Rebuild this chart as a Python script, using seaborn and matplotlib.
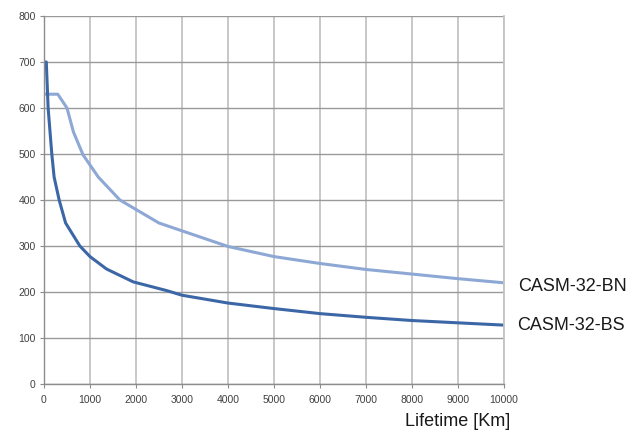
import numpy as np
import pandas as pd
import matplotlib
matplotlib.use("Agg")
import matplotlib.pyplot as plt
import seaborn as sns
from matplotlib.ticker import MultipleLocator

# -------------------------------------------------
# data
# -------------------------------------------------
bn_km = [0, 300, 500, 640, 850, 1180, 1650, 2500, 3000, 4000, 5000, 6000, 7000, 8000, 9000, 10000]
bn_val = [630, 630, 600, 548, 498, 450, 400, 350, 333, 299, 277, 262, 249, 239, 229, 220]

bs_km = [0, 50, 90, 130, 170, 220, 330, 470, 780, 1000, 1360, 1940, 2670, 3000, 4000, 5000, 6000, 7000, 8000, 9000, 10000]
bs_val = [700, 700, 600, 550, 500, 450, 400, 350, 300, 277, 250, 222, 203, 193, 176, 164, 153, 145, 138, 133, 128]

series_names = ["CASM-32-BN", "CASM-32-BS"]
series_colors = ["#8da8d4", "#3c67a7"]

df = pd.concat([
    pd.DataFrame({"km": bn_km, "val": bn_val, "series": series_names[0]}),
    pd.DataFrame({"km": bs_km, "val": bs_val, "series": series_names[1]}),
])

# -------------------------------------------------
# plot
# -------------------------------------------------
sns.set_style("white")
plt.rcParams["font.family"] = ["Liberation Sans", "DejaVu Sans"]

fig = plt.figure(figsize=(6.44, 4.34), dpi=100)
ax = fig.add_axes([0.0683, 0.1152, 0.7143, 0.8479])

sns.lineplot(data=df, x="km", y="val", hue="series", palette=dict(zip(series_names, series_colors)),
             linewidth=2.2, legend=False, ax=ax, sort=False)

ax.set_xlim(0, 10000)
ax.set_ylim(0, 800)
ax.xaxis.set_major_locator(MultipleLocator(1000))
ax.xaxis.set_minor_locator(MultipleLocator(500))
ax.yaxis.set_major_locator(MultipleLocator(100))

ax.grid(axis="x", which="major", color="#c4c4c4", linewidth=1.3)
ax.grid(axis="y", which="major", color="#9a9a9a", linewidth=1.0)
ax.set_axisbelow(True)

for s in ["left", "bottom"]:
    ax.spines[s].set_color("#8c8c8c")
    ax.spines[s].set_linewidth(1.0)
ax.spines["top"].set_visible(False)
ax.spines["right"].set_color("#c4c4c4")
ax.spines["right"].set_linewidth(1.3)

ax.tick_params(axis="both", which="major", direction="out", length=3, width=0.8,
               color="#8c8c8c", labelsize=7.5, labelcolor="#404040", pad=3)
ax.tick_params(axis="x", which="minor", direction="out", length=3, width=0.8, color="#8c8c8c")
ax.tick_params(left=True, bottom=True)
ax.tick_params(axis="x", pad=5)

ax.set_xlabel("")
ax.set_ylabel("")

# series labels at the line ends
ax.annotate(series_names[0], xy=(bn_km[-1], bn_val[-1]), xytext=(10, -3), textcoords="offset points",
            va="center", ha="left", fontsize=13, color="#1a1a1a", annotation_clip=False)
ax.annotate(series_names[1], xy=(bs_km[-1], bs_val[-1]), xytext=(9.5, 0), textcoords="offset points",
            va="center", ha="left", fontsize=13, color="#1a1a1a", annotation_clip=False)

fig.text(0.711, 0.018, "Lifetime [Km]", ha="center", va="baseline", fontsize=13, color="#1a1a1a")

fig.savefig("out.png", dpi=100)
